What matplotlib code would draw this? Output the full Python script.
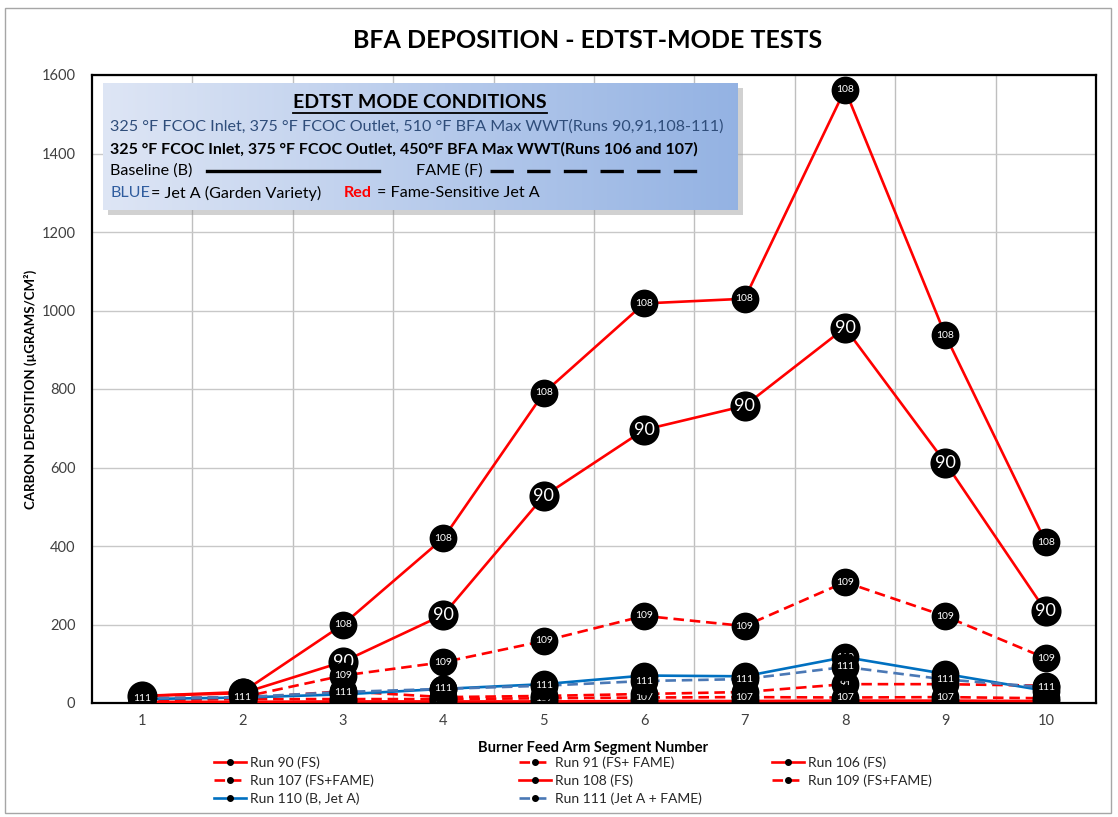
import numpy as np
import matplotlib.pyplot as plt
from matplotlib.patches import Rectangle
from matplotlib.lines import Line2D

plt.rcParams['font.family'] = ['Lato', 'DejaVu Sans']

segments = [1, 2, 3, 4, 5, 6, 7, 8, 9, 10]
run90 = [18, 25, 105, 225, 527, 696, 757, 956, 612, 234]
run91 = [8, 12, 30, 15, 18, 23, 28, 48, 48, 44]
run106 = [3, 3, 4, 4, 4, 5, 5, 6, 6, 5]
run107 = [8, 10, 10, 10, 12, 14, 15, 14, 15, 12]
run108 = [18, 28, 200, 420, 790, 1018, 1030, 1563, 937, 410]
run109 = [12, 15, 70, 104, 158, 222, 196, 308, 221, 114]
run110 = [10, 14, 22, 36, 48, 70, 68, 117, 74, 31]
run111 = [12, 15, 28, 36, 44, 56, 61, 92, 60, 40]

run_names = ['Run 90 (FS)', 'Run 91 (FS+ FAME)', 'Run 106 (FS)', 'Run 107 (FS+FAME)',
             'Run 108 (FS)', 'Run 109 (FS+FAME)', 'Run 110 (B, Jet A)', 'Run 111 (Jet A + FAME)']
run_tags = ['90', '91', '106', '107', '108', '109', '110', '111']
run_data = [run90, run91, run106, run107, run108, run109, run110, run111]

RED = '#ff0000'
BLUE = '#0070c0'
BLUE2 = '#4a78b5'
colors = [RED, RED, RED, RED, RED, RED, BLUE, BLUE2]
styles = ['-', '--', '-', '--', '-', '--', '-', '--']

W, H = 1118, 817
fig = plt.figure(figsize=(W / 100, H / 100), dpi=100)

# outer chart border
fig.patches.append(Rectangle((5 / W, 4 / H), 1106 / W, 805 / H, transform=fig.transFigure,
                             fill=False, edgecolor='#a6a6a6', linewidth=1))

ax = fig.add_axes([92 / W, 1 - 703 / H, (1096 - 92) / W, (703 - 75) / H])
ax.set_xlim(0.5, 10.5)
ax.set_ylim(0, 1600)
ax.set_yticks(np.arange(0, 1601, 200))
ax.set_xticks(segments)
ax.set_xticks(np.arange(1.5, 10.5, 1), minor=True)
ax.grid(True, which='minor', axis='x', color='#bfbfbf', linewidth=1)
ax.grid(True, which='major', axis='y', color='#c8c8c8', linewidth=1)
ax.tick_params(which='both', length=0)
ax.tick_params(axis='both', labelsize=10.5, labelcolor='#404040')
ax.tick_params(axis='y', pad=12)
ax.tick_params(axis='x', pad=8)
for s in ax.spines.values():
    s.set_linewidth(1.6)
    s.set_color('#000000')
ax.set_axisbelow(True)

handles = []
for i, (vals, c, ls) in enumerate(zip(run_data, colors, styles)):
    ln, = ax.plot(segments, vals, color=c, linewidth=1.9, zorder=3 + i * 0.01,
                  marker='o', markersize=4, markerfacecolor='black', markeredgecolor='black')
    if ls == '--':
        ln.set_dashes((4, 2.2))
    handles.append(ln)

# data label bubbles, later series drawn on top
for i, (vals, tag) in enumerate(zip(run_data, run_tags)):
    z = 10 + i
    big = tag == '90'
    ax.scatter(segments, vals, s=470 if big else 400, color='black', zorder=z, linewidths=0)
    for xv, yv in zip(segments, vals):
        ax.text(xv, yv, tag, color='white', ha='center', va='center',
                fontsize=13 if big else 7.5, zorder=z + 0.5)

fig.text(588 / W, 1 - 40 / H, 'BFA DEPOSITION - EDTST-MODE TESTS', ha='center', va='center',
         fontsize=18, fontweight='bold', color='#000000')
fig.text(30 / W, 1 - 389 / H, 'CARBON DEPOSITION (µGRAMS/CM²)', rotation=90, ha='center',
         va='center', fontsize=9.5, fontweight='bold')
fig.text(593 / W, 1 - 748 / H, 'Burner Feed Arm Segment Number', ha='center', va='center',
         fontsize=10.5, fontweight='bold')

# legend, three columns
col_x = [214, 519, 772]
cols = [[0, 3, 6], [1, 4, 7], [2, 5]]
for cx, idx in zip(col_x, cols):
    lg = fig.legend([handles[k] for k in idx], [run_names[k] for k in idx],
                    loc='upper left', bbox_to_anchor=(cx / W, 1 - 756 / H),
                    frameon=False, fontsize=10, handlelength=2.3, handletextpad=0.3,
                    labelspacing=0.42, borderaxespad=0, borderpad=0)
    for t in lg.get_texts():
        t.set_color('#262626')

# info box with gradient and shadow
bx0, by0, bx1, by1 = 103, 83, 738, 210
fig.patches.append(Rectangle(((bx0 + 5) / W, 1 - (by1 + 5) / H), (bx1 - bx0) / W, (by1 - by0) / H,
                             transform=fig.transFigure, facecolor='#9a9a9a', alpha=0.45,
                             edgecolor='none', zorder=20))
bax = fig.add_axes([bx0 / W, 1 - by1 / H, (bx1 - bx0) / W, (by1 - by0) / H], zorder=25)
grad = np.linspace(0, 1, 256).reshape(1, -1)
c0 = np.array([0.87, 0.90, 0.96])
c1 = np.array([0.58, 0.70, 0.89])
img = c0[None, None, :] * (1 - grad[..., None]) + c1[None, None, :] * grad[..., None]
bax.imshow(img, extent=[0, 1, 0, 1], aspect='auto')
bax.set_xlim(0, 1)
bax.set_ylim(0, 1)
bax.axis('off')

def bx(px):
    return (px - bx0) / (bx1 - bx0)

def by(py):
    return (by1 - py) / (by1 - by0)

bax.text(bx(420), by(103), 'EDTST MODE CONDITIONS', ha='center', va='center', fontsize=14,
         fontweight='bold', color='black')
bax.plot([bx(293), bx(547)], [by(113), by(113)], color='black', linewidth=1.3)
bax.text(bx(110), by(127), '325 °F FCOC Inlet, 375 °F FCOC Outlet, 510 °F BFA Max WWT(Runs 90,91,108-111)',
         ha='left', va='center', fontsize=11.6, color='#2f4d7a')
bax.text(bx(110), by(149), '325 °F FCOC Inlet, 375 °F FCOC Outlet, 450°F BFA Max WWT(Runs 106 and 107)',
         ha='left', va='center', fontsize=11.5, fontweight='bold', color='black')
bax.text(bx(110), by(171), 'Baseline (B)', ha='left', va='center', fontsize=11.6, color='black')
bax.plot([bx(207), bx(379)], [by(171), by(171)], color='black', linewidth=2.4)
bax.text(bx(416), by(171), 'FAME (F)', ha='left', va='center', fontsize=11.6, color='black')
bax.plot([bx(490), bx(700)], [by(171), by(171)], color='black', linewidth=2.4, dashes=(7, 4))
bax.text(bx(110), by(193), 'BLUE', ha='left', va='center', fontsize=11.6, color='#2f5c9e')
bax.text(bx(151), by(193), '= Jet A (Garden Variety)', ha='left', va='center', fontsize=11.6,
         color='black')
bax.text(bx(344), by(193), 'Red', ha='left', va='center', fontsize=11.6, fontweight='bold',
         color='#ff0000')
bax.text(bx(377), by(193), '= Fame-Sensitive Jet A', ha='left', va='center', fontsize=11.6,
         color='black')

plt.savefig('out.png', dpi=100)
